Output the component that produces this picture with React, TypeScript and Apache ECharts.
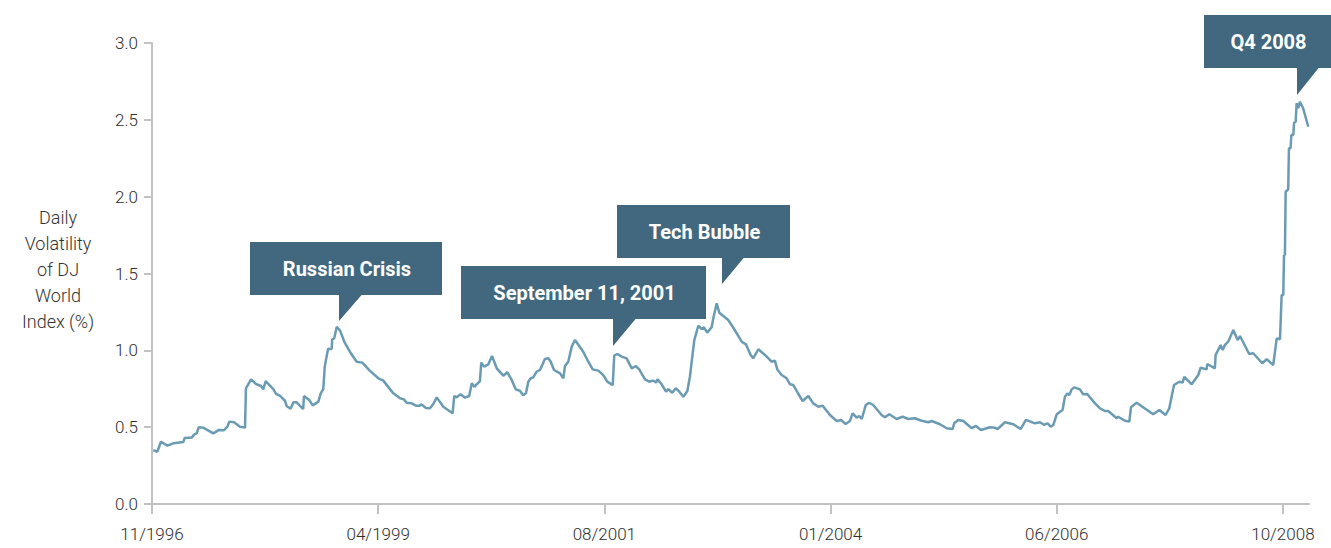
import React, { useEffect, useRef } from "react";
import * as echarts from "echarts";

// x = weeks since 11/1996, y = daily volatility (%)
const weeks: number[] = [
  0.7, 2.9, 4.9, 8.4, 11.7, 17.2, 17.9, 21.8, 23.2, 24.5, 25.6, 28.1, 33.6, 36.7, 39.5, 41.3, 42.4, 45.0, 48.2, 51.0,
  51.5, 54.3, 57.0, 59.8, 61.0, 62.3, 66.5, 68.0, 70.2, 72.9, 73.8, 76.0, 77.5, 79.3, 82.9, 83.3, 86.2, 88.1, 91.2, 92.5,
  93.9, 94.7, 96.5, 98.5, 98.8, 99.9, 101.3, 103.1, 105.5, 108.5, 112.2, 115.3, 119.5, 124.1, 126.8, 132.3, 136.0, 138.1, 139.6, 142.4,
  144.7, 146.9, 147.6, 150.2, 152.4, 154.2, 156.1, 159.7, 164.8, 165.7, 167.0, 169.2, 171.6, 173.9, 175.3, 176.7, 179.8, 180.5, 182.0, 184.4,
  186.4, 189.0, 192.6, 194.8, 197.2, 199.4, 201.7, 203.5, 205.0, 206.3, 207.6, 209.0, 210.9, 212.7, 214.2, 215.4, 217.3, 218.6, 220.4, 223.7,
  225.5, 226.4, 228.2, 230.1, 231.9, 236.4, 239.2, 241.6, 244.7, 247.4, 249.6, 252.6, 253.4, 255.1, 257.5, 260.2, 263.0, 265.3, 267.1, 270.3,
  272.6, 274.8, 276.3, 277.2, 279.4, 281.8, 283.0, 285.2, 287.1, 289.1, 291.3, 293.5, 294.9, 297.3, 299.5, 301.4, 302.6, 304.4, 306.8, 307.9,
  309.6, 311.0, 313.2, 315.9, 318.7, 323.3, 325.6, 328.2, 329.6, 332.4, 336.0, 339.7, 341.5, 342.8, 345.2, 347.9, 349.8, 351.6, 354.0, 356.7,
  359.8, 362.5, 365.3, 367.7, 371.7, 375.4, 377.7, 380.3, 382.6, 384.1, 386.3, 387.7, 389.1, 391.3, 393.2, 395.4, 400.0, 401.8, 404.2, 408.2,
  411.5, 414.6, 418.3, 422.0, 425.6, 427.4, 432.0, 435.7, 438.9, 439.8, 442.0, 444.8, 449.4, 451.7, 454.5, 459.4, 462.1, 463.6, 467.6, 472.2,
  476.2, 479.1, 484.1, 486.8, 489.0, 491.0, 492.7, 494.1, 496.0, 499.2, 500.5, 501.8, 502.9, 504.2, 505.6, 508.7, 510.5, 512.7, 517.0, 519.7,
  522.4, 524.2, 528.9, 529.7, 533.4, 535.8, 536.7, 539.8, 548.9, 552.2, 555.7, 557.7, 560.3, 563.2, 565.0, 565.9, 570.0, 573.6, 574.9, 578.2,
  578.5, 582.7, 583.1, 585.9, 587.0, 588.2, 590.0, 592.8, 595.2, 596.5, 601.5, 603.7, 608.7, 611.1, 614.7, 616.6, 618.4, 619.3, 620.2, 620.6,
  621.1, 621.5, 622.9, 623.3, 624.2, 624.6, 625.7, 626.1, 627.0, 627.5, 628.4, 629.3, 631.1, 633.9,
];

const volatility: number[] = [
  0.351, 0.34, 0.405, 0.38, 0.395, 0.403, 0.43, 0.432, 0.453, 0.46, 0.499, 0.497, 0.46, 0.482, 0.48, 0.503, 0.536, 0.532, 0.503, 0.497,
  0.753, 0.811, 0.781, 0.768, 0.746, 0.8, 0.748, 0.716, 0.703, 0.672, 0.638, 0.62, 0.662, 0.662, 0.618, 0.703, 0.677, 0.642, 0.666, 0.72,
  0.748, 0.894, 1.009, 1.009, 1.072, 1.078, 1.154, 1.128, 1.054, 0.991, 0.926, 0.92, 0.866, 0.818, 0.803, 0.72, 0.688, 0.681, 0.659, 0.655,
  0.64, 0.64, 0.649, 0.625, 0.623, 0.651, 0.694, 0.633, 0.59, 0.703, 0.694, 0.714, 0.692, 0.703, 0.785, 0.763, 0.8, 0.92, 0.894, 0.909,
  0.963, 0.883, 0.835, 0.857, 0.807, 0.746, 0.737, 0.707, 0.72, 0.796, 0.818, 0.824, 0.861, 0.872, 0.911, 0.944, 0.948, 0.926, 0.872, 0.85,
  0.818, 0.898, 0.926, 1.024, 1.067, 0.991, 0.926, 0.876, 0.868, 0.839, 0.796, 0.774, 0.965, 0.976, 0.959, 0.948, 0.883, 0.898, 0.876, 0.811,
  0.796, 0.803, 0.79, 0.811, 0.779, 0.731, 0.748, 0.724, 0.753, 0.731, 0.698, 0.735, 0.828, 1.067, 1.16, 1.139, 1.15, 1.115, 1.15, 1.219,
  1.306, 1.245, 1.223, 1.197, 1.147, 1.056, 1.039, 0.97, 0.948, 1.007, 0.97, 0.926, 0.933, 0.876, 0.839, 0.818, 0.779, 0.774, 0.724, 0.67,
  0.703, 0.655, 0.633, 0.64, 0.579, 0.54, 0.547, 0.521, 0.54, 0.59, 0.562, 0.573, 0.553, 0.644, 0.659, 0.644, 0.579, 0.564, 0.584, 0.553,
  0.568, 0.553, 0.558, 0.542, 0.532, 0.54, 0.519, 0.493, 0.488, 0.525, 0.547, 0.54, 0.493, 0.508, 0.482, 0.499, 0.497, 0.488, 0.532, 0.519,
  0.488, 0.547, 0.525, 0.532, 0.516, 0.525, 0.503, 0.514, 0.584, 0.612, 0.698, 0.72, 0.709, 0.746, 0.759, 0.746, 0.714, 0.716, 0.655, 0.623,
  0.605, 0.605, 0.558, 0.568, 0.542, 0.536, 0.629, 0.659, 0.584, 0.612, 0.579, 0.623, 0.774, 0.796, 0.79, 0.828, 0.779, 0.839, 0.887, 0.876,
  0.911, 0.883, 0.97, 1.035, 1.002, 1.035, 1.056, 1.132, 1.067, 1.093, 0.976, 0.981, 0.916, 0.942, 0.905, 1.078, 1.072, 1.36, 1.36, 1.62,
  1.62, 2.032, 2.048, 2.315, 2.315, 2.401, 2.401, 2.481, 2.488, 2.608, 2.575, 2.618, 2.575, 2.455,
];

const xTickWeeks: number[] = [0, 124, 248, 372, 496, 620];
const xTickLabels: string[] = ["11/1996", "04/1999", "08/2001", "01/2004", "06/2006", "10/2008"];
const yAxisTitle: string[] = ["Daily", "Volatility", "of DJ", "World", "Index (%)"];

const annotations = [
  { text: "Russian Crisis", box: [250, 242, 192, 53], ptr: [339, 362, 321] },
  { text: "September 11, 2001", box: [461, 266, 245, 53], ptr: [613, 636, 346] },
  { text: "Tech Bubble", box: [617, 205, 173, 53], ptr: [722, 744, 284] },
  { text: "Q4 2008", box: [1204, 15, 127, 53], ptr: [1297, 1319, 95] },
];

const BOX = "#41687f";
const LINE = "#6b9bb2";
const AXIS = "#c2c2c2";
const FONT = "Roboto, 'DejaVu Sans', sans-serif";

export default function App() {
  const ref = useRef<HTMLDivElement>(null);
  useEffect(() => {
    document.body.style.margin = "0";
    const chart = echarts.init(ref.current!, undefined, { renderer: "svg" });
    const graphics: any[] = [];
    annotations.forEach((a) => {
      const [x, y, w, h] = a.box;
      const [pl, pr, tip] = a.ptr;
      graphics.push({ type: "rect", shape: { x, y, width: w, height: h }, style: { fill: BOX } });
      graphics.push({
        type: "polygon",
        shape: { points: [[pl, y + h - 0.5], [pr, y + h - 0.5], [pl, tip]] },
        style: { fill: BOX },
      });
      graphics.push({
        type: "text",
        x: x + w / 2 + 1,
        y: y + h / 2,
        style: {
          text: a.text,
          fill: "#ffffff",
          font: `bold 20px ${FONT}`,
          textAlign: "center",
          textVerticalAlign: "middle",
        },
      });
    });
    graphics.push({
      type: "text",
      x: 58,
      y: 269,
      style: {
        text: yAxisTitle.join("\n"),
        fill: "#333333",
        fontFamily: FONT,
        fontWeight: 300,
        fontSize: 18,
        lineHeight: 26,
        textAlign: "center",
        textVerticalAlign: "middle",
      },
    });

    chart.setOption({
      animation: false,
      backgroundColor: "#ffffff",
      grid: { left: 152, right: 22, top: 43, bottom: 44, containLabel: false },
      xAxis: {
        type: "value",
        min: 0,
        max: 634.3,
        interval: 124,
        axisLine: { show: true, lineStyle: { color: AXIS, width: 2 } },
        axisTick: { show: true, length: 10, lineStyle: { color: AXIS, width: 2 }, customValues: xTickWeeks },
        splitLine: { show: false },
        axisLabel: {
          customValues: xTickWeeks,
          margin: 21,
          color: "#2e2e2e",
          fontFamily: FONT,
          fontWeight: 300,
          fontSize: 17,
          formatter: (v: number) => {
            const i = xTickWeeks.indexOf(Math.round(v));
            return i >= 0 ? xTickLabels[i] : "";
          },
        },
      },
      yAxis: {
        type: "value",
        min: 0,
        max: 3,
        interval: 0.5,
        axisLine: { show: true, lineStyle: { color: AXIS, width: 2 } },
        axisTick: { show: true, length: 8, lineStyle: { color: AXIS, width: 2 } },
        splitLine: { show: false },
        axisLabel: {
          margin: 14,
          color: "#2e2e2e",
          fontFamily: FONT,
          fontWeight: 300,
          fontSize: 17,
          formatter: (v: number) => v.toFixed(1),
        },
      },
      series: [
        {
          type: "line",
          data: weeks.map((w, i) => [w, volatility[i]]),
          symbol: "none",
          lineStyle: { color: LINE, width: 2.5 },
          z: 2,
        },
      ],
      graphic: graphics,
    });
    return () => chart.dispose();
  }, []);
  return <div ref={ref} style={{ width: 1331, height: 548 }} />;
}
